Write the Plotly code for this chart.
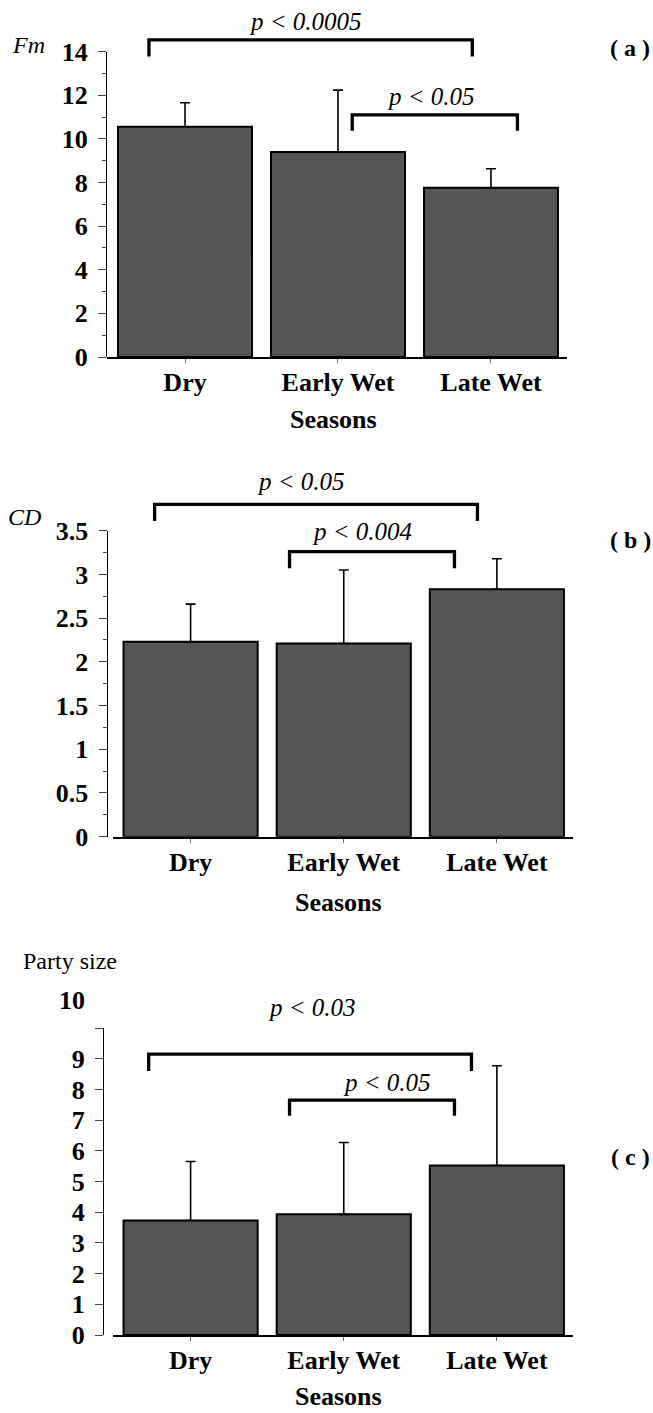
import plotly.graph_objects as go

# ---------------- data ----------------
seasons = ["Dry", "Early Wet", "Late Wet"]

fm_mean = [10.56, 9.40, 7.76]
fm_sd = [1.10, 2.84, 0.87]

cd_mean = [2.23, 2.21, 2.83]
cd_sd = [0.43, 0.84, 0.35]

party_mean = [3.73, 3.93, 5.52]
party_sd = [1.92, 2.34, 3.25]

fm_ticks = [0, 2, 4, 6, 8, 10, 12, 14]
cd_ticks = [0, 0.5, 1, 1.5, 2, 2.5, 3, 3.5]
party_ticks = [0, 1, 2, 3, 4, 5, 6, 7, 8, 9, 10]

# significance comparisons (first category index, second category index, label)
fm_pairs = [(0, 2, "p < 0.0005"), (1, 2, "p < 0.05")]
cd_pairs = [(0, 2, "p < 0.05"), (1, 2, "p < 0.004")]
party_pairs = [(0, 2, "p < 0.03"), (1, 2, "p < 0.05")]

# ---------------- layout helpers ----------------
W, H = 653, 1413
FONT = "Liberation Serif"
BAR_FILL = "#555555"
XRANGE = [-0.51, 2.497]


def fx(px):
    return px / W


def fy(px):
    return 1 - px / H


panels = [
    dict(mean=fm_mean, sd=fm_sd, ticks=fm_ticks, ymax=14, minor=1,
         pairs=fm_pairs, xdom=(107, 567), ypos=106, zero=357, top=51.7, otop=0,
         # bracket geometry: (left offset, right offset, level, drop, text x, text y)
         brk=[(-0.236, -0.122, 14.54, 13.78, 0.79, 15.4),
              (0.093, 0.173, 11.10, 10.37, 1.61, 11.95)],
         ylab="<i>Fm</i>", ylab_xy=(28, 45), tag="( a )", tag_y=48,
         title_y=419, blank_top=False),
    dict(mean=cd_mean, sd=cd_sd, ticks=cd_ticks, ymax=3.5, minor=0.25,
         pairs=cd_pairs, xdom=(112.5, 573), ypos=106.5, zero=836.7, top=530.7, otop=455,
         brk=[(-0.235, -0.127, 3.80, 3.61, 0.724, 4.06),
              (-0.354, -0.277, 3.26, 3.07, 1.116, 3.49)],
         ylab="<i>CD</i>", ylab_xy=(25, 517), tag="( b )", tag_y=540,
         title_y=902, blank_top=False),
    dict(mean=party_mean, sd=party_sd, ticks=party_ticks, ymax=10, minor=None,
         pairs=party_pairs, xdom=(112.5, 573), ypos=103, zero=1335, top=1028, otop=980,
         brk=[(-0.274, -0.166, 9.15, 8.60, 0.79, 10.66),
              (-0.354, -0.277, 7.65, 7.14, 1.28, 8.22)],
         ylab="Party size", ylab_xy=(70, 961), tag="( c )", tag_y=1157,
         title_y=1396, blank_top=True),
]

fig = go.Figure()
layout = dict(
    width=W, height=H,
    margin=dict(l=0, r=0, t=0, b=0, pad=0, autoexpand=False),
    paper_bgcolor="white", plot_bgcolor="rgba(0,0,0,0)",
    showlegend=False,
    bargap=0.124,
    font=dict(family=FONT, size=24, color="black"),
)
annotations = []
xpos = list(range(len(seasons)))

for i, p in enumerate(panels):
    n = i + 1
    xa = "x" if n == 1 else f"x{n}"
    ya = "y" if n == 1 else f"y{n}"
    o = n + 3
    oxa, oya = f"x{o}", f"y{o}"

    # bars with upward error bars
    fig.add_trace(go.Bar(
        x=xpos, y=p["mean"], xaxis=xa, yaxis=ya,
        marker=dict(color=BAR_FILL, line=dict(color="black", width=2)),
        error_y=dict(type="data", array=p["sd"], arrayminus=[0] * len(p["sd"]),
                     symmetric=False, color="black", thickness=1.6, width=5),
        hoverinfo="skip",
    ))

    # significance brackets on invisible overlay axes with the same scale
    for (a, b, lab), (dl, dr, lev, drop, tx, ty) in zip(p["pairs"], p["brk"]):
        fig.add_trace(go.Scatter(
            x=[xpos[a] + dl, xpos[a] + dl, xpos[b] + dr, xpos[b] + dr],
            y=[drop, lev, lev, drop],
            xaxis=oxa, yaxis=oya, mode="lines",
            line=dict(color="black", width=3.3),
            hoverinfo="skip",
        ))
        annotations.append(dict(
            x=tx, y=ty, xref=oxa, yref=oya, text=f"<i>{lab}</i>",
            showarrow=False, font=dict(family=FONT, size=25, color="black"),
            xanchor="center", yanchor="middle",
        ))

    ticktext = [("" if (p["blank_top"] and t == p["ticks"][-1]) else f"{t:g}")
                for t in p["ticks"]]

    xkey = "xaxis" if n == 1 else f"xaxis{n}"
    ykey = "yaxis" if n == 1 else f"yaxis{n}"
    xdom = [fx(p["xdom"][0]), fx(p["xdom"][1])]
    layout[xkey] = dict(
        domain=xdom, range=XRANGE, anchor=ya, automargin=False,
        showline=True, linecolor="black", linewidth=2.2,
        ticks="outside", ticklen=4, tickwidth=1, tickcolor="#666",
        tickvals=xpos, ticktext=seasons,
        tickfont=dict(family=FONT, size=26, color="black", weight="bold"),
        ticklabelstandoff=-3,
        showgrid=False, zeroline=False, fixedrange=True,
    )
    ydict = dict(
        domain=[fy(p["zero"]), fy(p["top"])], automargin=False,
        range=[0, p["ymax"]], anchor="free", position=fx(p["ypos"]),
        showline=True, linecolor="black", linewidth=1.2,
        ticks="outside", ticklen=8, tickwidth=1, tickcolor="#444",
        tickvals=p["ticks"], ticktext=ticktext,
        tickfont=dict(family=FONT, size=26, color="black", weight="bold"),
        ticklabelstandoff=5,
        showgrid=False, zeroline=False, fixedrange=True,
    )
    if p["minor"]:
        ydict["minor"] = dict(dtick=p["minor"], ticks="outside", ticklen=4,
                              tickwidth=1, tickcolor="#444", showgrid=False)
    layout[ykey] = ydict

    # overlay axes for brackets (same scale, taller domain)
    scale_top = p["ymax"] * (p["zero"] - p["otop"]) / (p["zero"] - p["top"])
    layout[f"xaxis{o}"] = dict(domain=xdom, range=XRANGE, anchor=oya,
                               visible=False, fixedrange=True, automargin=False)
    layout[f"yaxis{o}"] = dict(domain=[fy(p["zero"]), fy(p["otop"])],
                               range=[0, scale_top], anchor=oxa,
                               visible=False, fixedrange=True, automargin=False)

    # axis titles and panel tags
    annotations.append(dict(
        x=fx(p["ylab_xy"][0]), y=fy(p["ylab_xy"][1]), xref="paper", yref="paper",
        text=p["ylab"], showarrow=False, xanchor="center", yanchor="middle",
        font=dict(family=FONT, size=24, color="black"),
    ))
    annotations.append(dict(
        x=fx((p["xdom"][0] + p["xdom"][1]) / 2 - 4), y=fy(p["title_y"]),
        xref="paper", yref="paper", text="<b>Seasons</b>", showarrow=False,
        xanchor="center", yanchor="middle",
        font=dict(family=FONT, size=26, color="black"),
    ))
    annotations.append(dict(
        x=fx(630), y=fy(p["tag_y"]), xref="paper", yref="paper",
        text=f"<b>{p['tag']}</b>", showarrow=False, xanchor="center", yanchor="middle",
        font=dict(family=FONT, size=24, color="black"),
    ))
    if p["blank_top"]:
        annotations.append(dict(
            x=fx(87), y=fy(1000), xref="paper", yref="paper",
            text=f"<b>{p['ticks'][-1]:g}</b>", showarrow=False,
            xanchor="right", yanchor="middle",
            font=dict(family=FONT, size=26, color="black"),
        ))

layout["annotations"] = annotations
fig.update_layout(**layout)

page_css = (
    "var s=document.createElement('style');"
    "s.textContent='html,body{margin:0!important;padding:0!important;"
    "overflow:hidden!important;width:653px;height:1413px;}"
    "body>div{margin:0;padding:0;line-height:0;font-size:0;height:1413px;overflow:hidden;}';"
    "document.head.appendChild(s);"
)
fig.write_html(
    "out.html",
    config={"displayModeBar": False, "staticPlot": True},
    post_script=page_css,
)
